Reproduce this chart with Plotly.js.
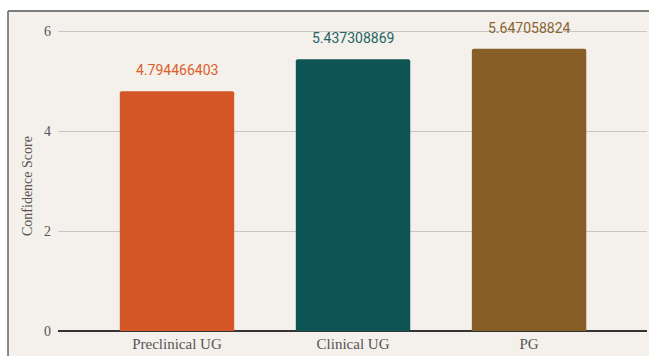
<!DOCTYPE html>
<html>
<head>
<meta charset="utf-8">
<script src="https://cdn.plot.ly/plotly-3.0.1.min.js"></script>
<style>
html,body{margin:0;padding:0;background:#ffffff;}
#chart{width:649px;height:356px;}
</style>
</head>
<body>
<div id="chart"></div>
<script>
var categories = ["Preclinical UG", "Clinical UG", "PG"];
var values = [4.794466403, 5.437308869, 5.647058824];
var valueLabels = ["4.794466403", "5.437308869", "5.647058824"];
var barColors = ["#d35627", "#0f5454", "#875e26"];
var labelColors = ["#dc5e2d", "#266464", "#8a6431"];
var yTicks = [0, 2, 4, 6];
var yTitle = "Confidence Score";

var W = 649, H = 356;
var m = {l: 58, r: 2, t: 11, b: 25};
var pw = W - m.l - m.r, ph = H - m.t - m.b;
var bg = "#f4f0eb";

var trace = {
  type: "bar",
  x: [0, 1, 2],
  y: values,
  width: 0.65,
  marker: {color: barColors, cornerradius: 2, line: {width: 0}},
  hoverinfo: "none"
};

var annotations = values.map(function (v, i) {
  return {
    x: i, y: v, xref: "x", yref: "y",
    text: valueLabels[i], showarrow: false,
    yshift: 21,
    font: {family: "Roboto, sans-serif", size: 14, color: labelColors[i]}
  };
});
annotations.push({
  xref: "paper", yref: "paper",
  x: (27 - m.l) / pw, y: (331 - 186) / ph,
  xanchor: "center", yanchor: "middle",
  text: yTitle, textangle: -90, showarrow: false,
  font: {family: "Liberation Serif, Georgia, serif", size: 14, color: "#555555"}
});

var shapes = [
  {type: "rect", xref: "paper", yref: "paper", layer: "below",
   x0: (8 - m.l) / pw, x1: (W - m.l) / pw, y0: -m.b / ph, y1: 1,
   fillcolor: bg, line: {width: 0}},
  {type: "line", xref: "paper", yref: "paper",
   x0: (8 - m.l) / pw, x1: (W - m.l) / pw, y0: 1, y1: 1,
   line: {color: "#555555", width: 1.5}},
  {type: "line", xref: "paper", yref: "paper",
   x0: (8 - m.l) / pw, x1: (8 - m.l) / pw, y0: -m.b / ph, y1: 1,
   line: {color: "#666666", width: 1.5}}
];

var layout = {
  width: W, height: H,
  margin: m,
  paper_bgcolor: "#ffffff",
  plot_bgcolor: bg,
  showlegend: false,
  bargap: 0.35,
  xaxis: {
    range: [-0.676, 2.670],
    tickmode: "array", tickvals: [0, 1, 2], ticktext: categories,
    showgrid: false, zeroline: false, showline: false,
    ticks: "", ticklabelstandoff: 2,
    tickfont: {family: "Liberation Serif, Georgia, serif", size: 15, color: "#555555"},
    fixedrange: true
  },
  yaxis: {
    range: [0, 6.4],
    tickmode: "array", tickvals: yTicks, ticktext: yTicks.map(String),
    showgrid: true, gridcolor: "#c9c5c0", gridwidth: 1,
    zeroline: true, zerolinecolor: "#333333", zerolinewidth: 2,
    showline: false, ticks: "",
    ticklabelstandoff: 6,
    tickfont: {family: "Liberation Serif, Georgia, serif", size: 14, color: "#555555"},
    fixedrange: true
  },
  annotations: annotations,
  shapes: shapes
};

Plotly.newPlot("chart", [trace], layout, {displayModeBar: false, staticPlot: true});
</script>
</body>
</html>
